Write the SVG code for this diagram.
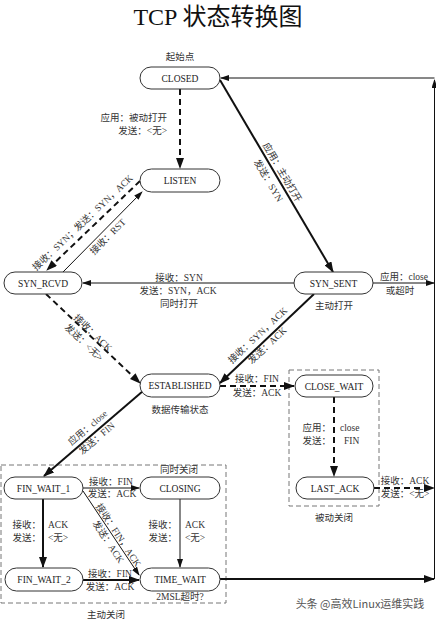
<svg xmlns="http://www.w3.org/2000/svg" width="436" height="620" viewBox="0 0 436 620">
<defs>
<marker id="ah" markerUnits="userSpaceOnUse" markerWidth="11" markerHeight="8" refX="10" refY="4" orient="auto"><path d="M0,0 L11,4 L0,8 z" fill="#111"/></marker>
<marker id="as" markerUnits="userSpaceOnUse" markerWidth="9" markerHeight="6" refX="8" refY="3" orient="auto"><path d="M0,0 L9,3 L0,6 z" fill="#111"/></marker>
<style>
.n rect{fill:#fff;stroke:#333;stroke-width:1}
.n text{font-family:"Liberation Serif","Noto Sans CJK SC",serif;font-size:9.5px;fill:#222;text-anchor:middle}
.t{font-family:"Liberation Serif","Noto Sans CJK SC",serif;font-size:9.5px;fill:#333}
.c{text-anchor:middle}
.e{text-anchor:end}
.thick{stroke:#111;stroke-width:2;fill:none}
.thin{stroke:#111;stroke-width:1;fill:none}
.dash{stroke-dasharray:6 4}
.box{fill:none;stroke:#777;stroke-width:1;stroke-dasharray:5 3}
</style>
</defs>
<rect width="436" height="620" fill="#fff"/>
<text x="218" y="25" font-family="Liberation Serif,Noto Sans CJK SC,serif" font-size="24" fill="#111" text-anchor="middle">TCP 状态转换图</text>

<g id="boxes">
<rect class="box" x="1" y="465" width="225" height="138"/>
<rect class="box" x="289" y="370" width="90" height="136"/>
</g>

<g id="connectors">
<path class="thick dash" d="M180,89 L180,168" marker-end="url(#ah)"/>
<path class="thick" d="M220,80 L333,272" marker-end="url(#ah)"/>
<path class="thick dash" d="M140,181 L47,270" marker-end="url(#ah)"/>
<path class="thin" d="M63,272 L142,192" marker-end="url(#as)"/>
<path class="thin" d="M294,283 L83,283" marker-end="url(#as)"/>
<path class="thin" d="M373,283 L434,283" marker-end="url(#as)"/>
<path class="thick dash" d="M46,294 L140,383" marker-end="url(#ah)"/>
<path class="thick" d="M314,294 L220,383" marker-end="url(#ah)"/>
<path class="thick dash" d="M220,386 L294,386" marker-end="url(#ah)"/>
<path class="thick dash" d="M334,397 L334,476" marker-end="url(#ah)"/>
<path class="thick dash" d="M374,488 L434,488" marker-end="url(#ah)"/>
<path class="thick" d="M143,391 L44,476" marker-end="url(#ah)"/>
<path class="thin" d="M83,488 L139,488" marker-end="url(#as)"/>
<path class="thick" d="M43,499 L43,567" marker-end="url(#ah)"/>
<path class="thin" d="M83,491 L139,575" marker-end="url(#as)"/>
<path class="thin" d="M180,499 L180,567" marker-end="url(#as)"/>
<path class="thick" d="M83,580 L139,580" marker-end="url(#ah)"/>
<path class="thick" d="M220,579 L434,579" marker-end="url(#ah)"/>
<path class="thin" d="M434.5,579 L434.5,80" marker-end="url(#as)"/>
<path class="thin" d="M434.5,78 L221,78" marker-end="url(#as)"/>
</g>

<g id="labels">
<text class="t c" x="180" y="60">起始点</text>
<text class="t e" x="167" y="121">应用：被动打开</text>
<text class="t e" x="167" y="134">发送：&lt;无&gt;</text>
<g transform="translate(276,176) rotate(59.5)">
<text class="t c" x="0" y="-4">应用：主动打开</text>
<text class="t c" x="0" y="12">发送：SYN</text>
</g>
<g transform="translate(87,227) rotate(-43.5)">
<text class="t c" x="0" y="-3">接收：SYN；发送：SYN，ACK</text>
</g>
<g transform="translate(103,232) rotate(-45.3)">
<text class="t c" x="0" y="10">接收：RST</text>
</g>
<text class="t c" x="179" y="281">接收：SYN</text>
<text class="t c" x="178" y="294">发送：SYN，ACK</text>
<text class="t c" x="179" y="307">同时打开</text>
<text class="t c" x="404" y="280">应用：close</text>
<text class="t c" x="400" y="294">或超时</text>
<text class="t c" x="334" y="309">主动打开</text>
<g transform="translate(90,336) rotate(43.4)">
<text class="t c" x="0" y="-1">接收：ACK</text>
<text class="t c" x="0" y="12">发送：&lt;无&gt;</text>
</g>
<g transform="translate(264,342) rotate(-43.4)">
<text class="t c" x="0" y="-6">接收：SYN，ACK</text>
<text class="t c" x="0" y="8">发送：ACK</text>
</g>
<text class="t c" x="257" y="382">接收：FIN</text>
<text class="t c" x="257" y="396">发送：ACK</text>
<text class="t c" x="180" y="413">数据传输状态</text>
<text class="t e" x="331" y="431">应用：</text>
<text class="t" x="340" y="431">close</text>
<text class="t e" x="331" y="444">发送：</text>
<text class="t" x="344" y="444">FIN</text>
<text class="t c" x="405" y="484">接收：ACK</text>
<text class="t c" x="405" y="497">发送：&lt;无&gt;</text>
<text class="t c" x="334" y="521">被动关闭</text>
<g transform="translate(93,434) rotate(-40.6)">
<text class="t c" x="0" y="-5">应用：close</text>
<text class="t c" x="0" y="9">发送：FIN</text>
</g>
<text class="t c" x="179" y="473">同时关闭</text>
<text class="t c" x="111" y="485">接收：FIN</text>
<text class="t c" x="112" y="497">发送：ACK</text>
<text class="t e" x="41" y="528">接收：</text>
<text class="t" x="48" y="528">ACK</text>
<text class="t e" x="41" y="541">发送：</text>
<text class="t" x="48" y="541">&lt;无&gt;</text>
<g transform="translate(114,538) rotate(56.5)">
<text class="t c" x="0" y="-2">接收：FIN，ACK</text>
<text class="t c" x="0" y="10">发送：ACK</text>
</g>
<text class="t e" x="177" y="528">接收：</text>
<text class="t" x="185" y="528">ACK</text>
<text class="t e" x="177" y="541">发送：</text>
<text class="t" x="185" y="541">&lt;无&gt;</text>
<text class="t c" x="110" y="577">接收：FIN</text>
<text class="t c" x="110" y="590">发送：ACK</text>
<text class="t c" x="180" y="600">2MSL超时?</text>
<text class="t c" x="106" y="618">主动关闭</text>
<text x="360" y="608" font-family="Noto Sans CJK SC,sans-serif" font-size="11" fill="#555" text-anchor="middle">头条 @高效Linux运维实践</text>
</g>

<g id="CLOSED" class="n"><rect x="140" y="67" width="80" height="22" rx="11"/><text x="180" y="81.5">CLOSED</text></g>
<g id="LISTEN" class="n"><rect x="140" y="169" width="80" height="23" rx="11.5"/><text x="180" y="184">LISTEN</text></g>
<g id="SYN_RCVD" class="n"><rect x="4" y="272" width="78" height="22" rx="11"/><text x="43" y="286.5">SYN_RCVD</text></g>
<g id="SYN_SENT" class="n"><rect x="294" y="272" width="79" height="22" rx="11"/><text x="333.5" y="286.5">SYN_SENT</text></g>
<g id="ESTABLISHED" class="n"><rect x="140" y="374" width="80" height="23" rx="11.5"/><text x="180" y="389">ESTABLISHED</text></g>
<g id="CLOSE_WAIT" class="n"><rect x="295" y="375" width="78" height="22" rx="11"/><text x="334" y="389.5">CLOSE_WAIT</text></g>
<g id="LAST_ACK" class="n"><rect x="296" y="477" width="78" height="22" rx="11"/><text x="335" y="491.5">LAST_ACK</text></g>
<g id="FIN_WAIT_1" class="n"><rect x="4" y="477" width="79" height="22" rx="11"/><text x="43.5" y="491.5">FIN_WAIT_1</text></g>
<g id="CLOSING" class="n"><rect x="140" y="477" width="80" height="22" rx="11"/><text x="180" y="491.5">CLOSING</text></g>
<g id="FIN_WAIT_2" class="n"><rect x="5" y="568" width="78" height="23" rx="11.5"/><text x="44" y="583">FIN_WAIT_2</text></g>
<g id="TIME_WAIT" class="n"><rect x="140" y="568" width="80" height="23" rx="11.5"/><text x="180" y="583">TIME_WAIT</text></g>
</svg>
